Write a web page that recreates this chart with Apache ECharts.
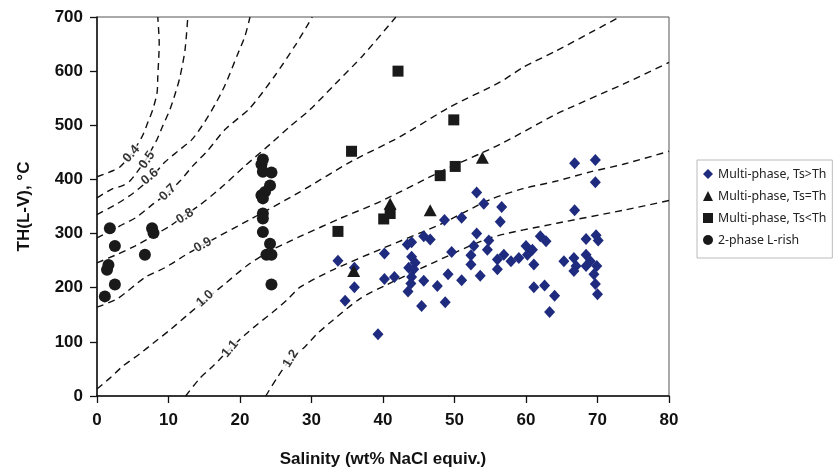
<!DOCTYPE html>
<html>
<head>
<meta charset="utf-8">
<script src="https://cdn.jsdelivr.net/npm/echarts@6/dist/echarts.min.js"></script>
<style>
html,body{margin:0;padding:0;background:#fff;}
#chart{width:837px;height:473px;}
</style>
</head>
<body>
<div id="chart"></div>
<script>
// Series data: [salinity wt% NaCl, TH °C]
const multiTsGtTh = [
  [33.7,250],[36.0,237],[36.0,201],[34.7,176],[39.3,114],[40.2,263],[40.2,216],[41.6,220],
  [43.4,280],[44.0,284],[44.0,257],[44.5,246],[43.6,237],[44.3,234],[44.0,220],[43.9,208],
  [43.5,193],[45.7,295],[46.6,289],[45.7,213],[45.4,166],[47.6,203],[48.6,325],[51.0,329],
  [49.6,266],[49.1,225],[48.7,173],[51.0,214],[53.1,300],[52.7,277],[52.3,260],[52.3,243],
  [53.6,222],[54.1,355],[54.8,287],[54.6,270],[56.4,322],[56.0,252],[56.0,234],[53.1,376],
  [66.8,430],[69.7,436],[69.7,395],[56.6,349],[66.8,343],[62.0,295],[62.8,286],[68.4,290],
  [69.8,297],[70.1,287],[56.9,261],[57.9,249],[59.0,255],[60.0,277],[60.9,270],[60.2,261],
  [61.1,243],[61.1,201],[62.6,204],[64.0,185],[63.3,155],[65.3,249],[66.7,255],[67.0,240],
  [66.7,231],[68.4,261],[69.0,249],[69.9,240],[68.4,240],[69.5,225],[69.7,207],[70.0,188]
];
const multiTsEqTh = [[35.9,231],[41.0,355],[46.6,343],[53.9,440]];
const multiTsLtTh = [[33.7,304],[35.6,452],[40.1,327],[41.0,337],[42.1,600],[48.0,407],[49.9,510],[50.1,424]];
const twoPhaseLrich = [
  [1.8,310],[2.5,277],[6.7,261],[7.7,310],[7.9,301],[1.6,242],[1.4,233],[2.5,206],[1.1,184],
  [23.2,437],[23.0,428],[23.2,414],[24.4,413],[24.2,389],[23.0,371],[23.5,377],[23.2,365],
  [23.2,337],[23.2,328],[23.2,303],[24.2,281],[23.7,261],[24.4,261],[24.4,206]
];

// Iso-density dashed curves
const iso04 = [[0,405],[2.2,416],[3.2,423],[4.8,447],[6.3,479],[7.1,505],[7.8,529],[8.4,560],[8.5,589],[8.7,651],[8.5,700]];
const iso05 = [[0,366],[2.2,383],[3.5,388],[4.6,397],[6.7,434],[8.4,474],[9.1,496],[10.2,529],[11.0,561],[11.6,589],[12.3,638],[12.7,700]];
const iso06 = [[0,335],[2.8,355],[5.0,374],[7.4,401],[9.5,432],[11.3,452],[13.3,474],[15.1,507],[16.5,538],[17.9,574],[19.6,629],[20.7,665],[21.4,700]];
const iso07 = [[0,292],[3.2,314],[5.5,330],[7.6,352],[9.8,374],[11.6,397],[13.4,425],[15.4,452],[17.9,492],[21.4,532],[24.9,592],[27.7,647],[29.4,684],[30.1,700]];
const iso08 = [[0,246],[2.9,262],[5.3,277],[10.2,314],[12.3,334],[14.4,353],[17.2,383],[20.7,425],[24.2,465],[27.0,498],[29.8,529],[33.3,576],[37.2,629],[41.8,700]];
const iso09 = [[0,164],[2.9,180],[6.7,219],[9.5,237],[12.2,259],[14.8,279],[21.4,326],[28.4,377],[35.4,432],[42.4,479],[49.4,534],[56.4,580],[59.6,607],[64.3,638],[69.0,671],[73.1,700]];
const iso10 = [[0,13],[1.8,33],[3.6,55],[6.0,78],[7.8,97],[10.2,122],[12.6,149],[15.1,177],[17.6,204],[21.0,241],[24.2,268],[27.0,286],[28.8,297],[34.0,328],[39.6,359],[48.0,414],[56.4,465],[64.3,521],[73.6,576],[80,616]];
const iso11 = [[12.4,0],[14.4,33],[16.2,55],[18.6,87],[20.7,113],[22.5,133],[24.6,155],[26.7,179],[28.4,201],[33.0,233],[40.0,273],[48.0,317],[55.0,363],[59.6,383],[64.3,397],[69.0,414],[73.6,428],[80,452]];
const iso12 = [[23.6,0],[25.3,36],[27.0,67],[29.1,91],[30.8,115],[33.0,140],[36.8,180],[40.6,206],[47.0,246],[55.0,292],[64.3,319],[73.6,343],[80,361]];
const isoCurves = [iso04, iso05, iso06, iso07, iso08, iso09, iso10, iso11, iso12];

const isoLabelNames = ['0.4','0.5','0.6','0.7','0.8','0.9','1.0','1.1','1.2'];
const isoLabelPos = [[4.8,447],[7.0,436],[7.4,405],[9.9,376],[12.3,332],[14.8,279],[15.1,180],[18.6,87],[27.1,69]];
const isoLabelAngle = [48,55,40,45,32,30,42,50,58];

const xTicks = {min:0, max:80, interval:10};
const yTicks = {min:0, max:700, interval:100};

const legendNames = ['Multi-phase, Ts>Th','Multi-phase, Ts=Th','Multi-phase, Ts<Th','2-phase L-rish'];

const chart = echarts.init(document.getElementById('chart'), null, {renderer:'canvas'});
const axisFont = {fontFamily:'Liberation Sans, Arial, sans-serif', fontWeight:'bold', fontSize:17, color:'#111'};

const series = [];
isoCurves.forEach((c, i) => {
  series.push({
    type:'line', name:'iso'+i, data:c, showSymbol:false, smooth:0.25, silent:true, z:1,
    lineStyle:{color:'#111', width:1.4, type:[7,5]}
  });
});
series.push({
  type:'scatter', name:'isoLabels', silent:true, z:3, symbolSize:0,
  data: isoLabelNames.map((n,i)=>({name:n, value:isoLabelPos[i], label:{rotate:isoLabelAngle[i]}})),
  label:{show:true, position:'inside', formatter:'{b}', fontFamily:'Liberation Sans, Arial, sans-serif',
         fontSize:13, fontWeight:'bold', color:'#000', backgroundColor:'#fff', padding:[0,1]}
});
const op = {opacity:1};
series.push({type:'scatter', name:legendNames[0], data:multiTsGtTh, symbol:'diamond', symbolSize:[11,12], itemStyle:Object.assign({color:'#1f2b7e'}, op), z:5});
series.push({type:'scatter', name:legendNames[1], data:multiTsEqTh, symbol:'triangle', symbolSize:[13,12], itemStyle:Object.assign({color:'#1a1a1a'}, op), z:6});
series.push({type:'scatter', name:legendNames[2], data:multiTsLtTh, symbol:'rect', symbolSize:11, itemStyle:Object.assign({color:'#1a1a1a'}, op), z:6});
series.push({type:'scatter', name:legendNames[3], data:twoPhaseLrich, symbol:'circle', symbolSize:12, itemStyle:Object.assign({color:'#1a1a1a'}, op), z:6});

chart.setOption({
  animation:false,
  backgroundColor:'#fff',
  grid:{left:97, right:168, top:17, bottom:73, show:true, borderColor:'#555', borderWidth:1, backgroundColor:'transparent'},
  legend:{
    data: legendNames.map((n,i)=>({name:n, icon:['diamond','triangle','rect','circle'][i], itemStyle:{opacity:1}})),
    orient:'vertical', left:697, top:160, itemWidth:10, itemHeight:10, itemGap:10,
    padding:[8,6,12,6], borderColor:'#bbb', borderWidth:1, selectedMode:false,
    textStyle:{fontFamily:'Noto Sans, Open Sans, sans-serif', fontSize:12.3, color:'#222'}
  },
  xAxis:{
    type:'value', min:xTicks.min, max:xTicks.max, interval:xTicks.interval,
    name:'Salinity (wt% NaCl equiv.)', nameLocation:'middle', nameGap:55,
    nameTextStyle:axisFont,
    axisLine:{show:true, onZero:false, lineStyle:{color:'#111', width:1.5}},
    axisTick:{show:true, inside:false, length:7, lineStyle:{color:'#111', width:1.3}},
    axisLabel:Object.assign({margin:16}, axisFont),
    splitLine:{show:false}
  },
  yAxis:{
    type:'value', min:yTicks.min, max:yTicks.max, interval:yTicks.interval,
    name:'TH(L-V), °C', nameLocation:'middle', nameGap:64, nameRotate:90,
    nameTextStyle:axisFont,
    axisLine:{show:true, onZero:false, lineStyle:{color:'#111', width:1.5}},
    axisTick:{show:true, inside:false, length:7, lineStyle:{color:'#111', width:1.3}},
    axisLabel:Object.assign({margin:14}, axisFont),
    splitLine:{show:false}
  },
  series: series
});
</script>
</body>
</html>
